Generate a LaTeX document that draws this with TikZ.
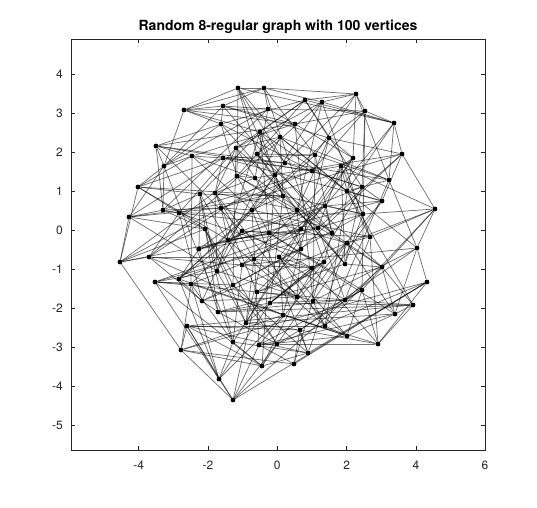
\documentclass[tikz,border=0pt]{standalone}
\usepackage{fontspec}
\setmainfont{TeX Gyre Heros}
\usetikzlibrary{backgrounds}

% vertex positions (pixels, y downwards)
\def\vertexlist{1/238/88, 2/264/88, 3/184/110, 4/223/106, 5/268/109, 6/305/100, 7/322/102, 8/356/94,
  9/365/111, 10/394/123, 11/156/146, 12/221/124, 13/295/124, 14/260/132, 15/280/137, 16/329/138,
  17/192/156, 18/164/166, 19/236/148, 20/257/154, 21/223/158, 22/315/155, 23/353/158, 24/402/154,
  25/138/187, 26/237/176, 27/255/178, 28/275/175, 29/285/163, 30/312/171, 31/341/166, 32/389/180,
  33/362/187, 34/347/191, 35/283/196, 36/200/194, 37/215/193, 38/163/210, 39/179/213, 40/129/217,
  41/221/208, 42/252/210, 43/297/210, 44/325/206, 45/382/201, 46/435/209, 47/363/214, 48/205/229,
  49/242/231, 50/269/233, 51/301/229, 52/318/228, 53/332/233, 54/370/237, 55/228/240, 56/347/243,
  57/417/248, 58/199/249, 59/149/257, 60/301/249, 61/254/259, 62/279/257, 63/242/265, 64/324/262,
  65/312/268, 66/217/271, 67/120/262, 68/345/264, 69/382/267, 70/155/282, 71/179/279, 72/191/284,
  73/233/285, 74/257/292, 75/427/282, 76/362/290, 77/202/301, 78/218/312, 79/270/303, 80/297/297,
  81/313/301, 82/345/300, 83/413/305, 84/395/314, 85/187/326, 86/246/323, 87/283/315, 88/325/326,
  89/300/330, 90/347/336, 91/181/350, 92/233/342, 93/259/345, 94/277/344, 95/308/353, 96/378/344,
  97/219/379, 98/262/366, 99/294/364, 100/233/400}
\def\kernelsq{18000}
\def\edgedegree{8}

\begin{document}
\begin{tikzpicture}[
  x=1pt, y=-1pt,
  vertex/.style={circle, fill=black, inner sep=0pt, minimum size=4.8pt},
  edge/.style={draw=black, line width=0.75pt, draw opacity=0.55},
  axisline/.style={draw=black!85, line width=0.8pt},
  ticklabel/.style={inner sep=0pt, text=black!85, font=\fontsize{12}{14}\selectfont},
  plottitle/.style={inner sep=0pt, font=\bfseries\fontsize{14}{16}\selectfont}
]
\useasboundingbox (0,0) rectangle (537,507);

% Title
\node[plottitle, anchor=base] (title) at (278,30.5) {Random 8-regular graph with 100 vertices};

% === Axes ===
\draw[axisline] (71,39) rectangle (485,450);
\foreach \v/\px in {-4/138.7, -2/208.0, 0/277.3, 2/346.6, 4/415.9, 6/485.0} {
  \draw[axisline] (\px,450) -- ++(0,-4);
  \draw[axisline] (\px,39) -- ++(0,4);
  \node[ticklabel, anchor=base] (xl\v) at (\px,469.3) {\v};
}
\foreach \v in {4,3,...,-5} {
  \pgfmathsetmacro\py{230-39*\v}
  \draw[axisline] (71,\py) -- ++(4,0);
  \draw[axisline] (485,\py) -- ++(-4,0);
  \node[ticklabel, anchor=east] (yl\v) at (63,\py) {\v};
}

% === Vertices ===
\foreach \n/\x/\y in \vertexlist {
  \node[vertex] (v\n) at (\x,\y) {};
  \expandafter\xdef\csname vx\n\endcsname{\x}
  \expandafter\xdef\csname vy\n\endcsname{\y}
  \expandafter\xdef\csname S\n\endcsname{0}
  \expandafter\xdef\csname vdeg\n\endcsname{0}
}

% kernel weights
\foreach \i in {1,...,99} {
  \pgfmathtruncatemacro\jfirst{\i+1}
  \foreach \j in {\jfirst,...,100} {
    \edef\kij{\fpeval{exp(-((\csname vx\i\endcsname-\csname vx\j\endcsname)^2+(\csname vy\i\endcsname-\csname vy\j\endcsname)^2)/\kernelsq)}}
    \expandafter\xdef\csname K\i-\j\endcsname{\kij}
    \expandafter\xdef\csname E\i-\j\endcsname{0}
    \expandafter\xdef\csname S\i\endcsname{\fpeval{\csname S\i\endcsname+\kij}}
    \expandafter\xdef\csname S\j\endcsname{\fpeval{\csname S\j\endcsname+\kij}}
  }
}

% === Edges (degree capped at 8) ===
\pgfmathsetseed{4711}
\begin{pgfonlayer}{background}
\foreach \pass in {0.8, 2, 5, 50} {
  \foreach \i in {1,...,99} {
    \pgfmathtruncatemacro\jfirst{\i+1}
    \foreach \j in {\jfirst,...,100} {
      \ifnum\csname vdeg\i\endcsname<\edgedegree\relax
      \ifnum\csname vdeg\j\endcsname<\edgedegree\relax
      \ifnum\csname E\i-\j\endcsname=0\relax
        \pgfmathsetmacro\coin{rnd}
        \ifnum\fpeval{\coin < \pass*\edgedegree*\csname K\i-\j\endcsname/sqrt(\csname S\i\endcsname*\csname S\j\endcsname)}=1\relax
          \draw[edge] (v\i) -- (v\j);
          \expandafter\xdef\csname E\i-\j\endcsname{1}
          \expandafter\xdef\csname vdeg\i\endcsname{\the\numexpr\csname vdeg\i\endcsname+1\relax}
          \expandafter\xdef\csname vdeg\j\endcsname{\the\numexpr\csname vdeg\j\endcsname+1\relax}
        \fi
      \fi\fi\fi
    }
  }
}
\end{pgfonlayer}

\end{tikzpicture}
\end{document}
